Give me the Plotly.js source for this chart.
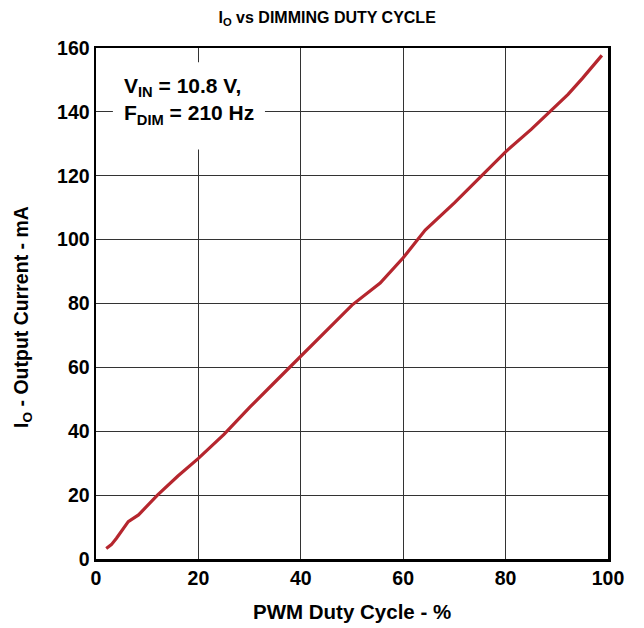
<!DOCTYPE html>
<html>
<head>
<meta charset="utf-8">
<script src="https://cdn.plot.ly/plotly-3.0.1.min.js"></script>
<style>html,body{margin:0;padding:0;background:#fff;}#chart{width:644px;height:628px;}</style>
</head>
<body>
<div id="chart"></div>
<script>
const dutyCycle = [2, 3, 4, 5, 6.3, 8.3, 10, 12, 16, 20, 25, 30, 35, 40, 45, 50, 55.5, 60, 64.3, 70, 75, 80, 85, 88.7, 92.2, 95, 98.8];
const outputCurrent = [3.3, 4.5, 6.5, 8.8, 11.7, 13.8, 16.5, 20, 26, 31.5, 39, 47.5, 55.5, 63.5, 71.5, 79.5, 86.4, 94.3, 103, 111.5, 119.5, 127.5, 134.5, 140, 145.5, 150.5, 157.7];
const xTicks = [0, 20, 40, 60, 80, 100];
const yTicks = [0, 20, 40, 60, 80, 100, 120, 140, 160];

const FONT = 'Liberation Sans, Arial, sans-serif';

const trace = {
  x: dutyCycle, y: outputCurrent, mode: 'lines', type: 'scatter',
  line: {color: '#b5262e', width: 3.2, shape: 'linear'},
  hoverinfo: 'skip'
};

const layout = {
  width: 644, height: 628,
  margin: {l: 96, r: 36, t: 48, b: 69},
  paper_bgcolor: '#fff', plot_bgcolor: '#fff',
  showlegend: false,
  font: {family: FONT, color: '#000'},
  title: {text: '<b>I<sub>O</sub> vs DIMMING DUTY CYCLE</b>', font: {size: 16, family: FONT, color: '#000'},
          x: 0.508, xanchor: 'center', y: 0.973, yanchor: 'middle'},
  xaxis: {
    range: [0, 100], tickvals: xTicks, ticktext: xTicks.map(v => '<b>' + v + '</b>'),
    showgrid: true, gridcolor: '#333', gridwidth: 1.2,
    showline: true, linecolor: '#000', linewidth: 2.5, mirror: true,
    ticks: '', zeroline: false,
    tickfont: {size: 19.5, family: FONT, color: '#000'}
  },
  yaxis: {
    range: [0, 160], tickvals: yTicks, ticktext: yTicks.map(v => '<b>' + v + '</b>'),
    showgrid: true, gridcolor: '#333', gridwidth: 1.2,
    showline: true, linecolor: '#000', linewidth: 2.5, mirror: true,
    ticks: '', zeroline: false, ticklabelstandoff: 0,
    tickfont: {size: 19.5, family: FONT, color: '#000'}
  },
  shapes: [{
    type: 'rect', xref: 'x', yref: 'y', x0: 3.3, x1: 33, y0: 128.2, y1: 155.5,
    fillcolor: '#fff', line: {width: 0}, layer: 'between'
  }],
  annotations: [{
    xref: 'x', yref: 'y', x: 5, y: 152.5, xanchor: 'left', yanchor: 'top',
    align: 'left', showarrow: false,
    text: '<b>V<sub>IN</sub> = 10.8 V,<br>F<sub>DIM</sub> = 210 Hz</b>',
    font: {size: 21, family: FONT, color: '#000'}
  }, {
    xref: 'paper', yref: 'paper', x: 0.5, y: -0.1037, xanchor: 'center', yanchor: 'middle',
    showarrow: false, text: '<b>PWM Duty Cycle - %</b>',
    font: {size: 20.5, family: FONT, color: '#000'}
  }, {
    xref: 'paper', yref: 'paper', x: -0.1426, y: 0.4736, xanchor: 'center', yanchor: 'middle',
    showarrow: false, textangle: -90, text: '<b>I<sub>O</sub> - Output Current - mA</b>',
    font: {size: 19.5, family: FONT, color: '#000'}
  }]
};

Plotly.newPlot('chart', [trace], layout, {displayModeBar: false, staticPlot: true});
</script>
</body>
</html>
